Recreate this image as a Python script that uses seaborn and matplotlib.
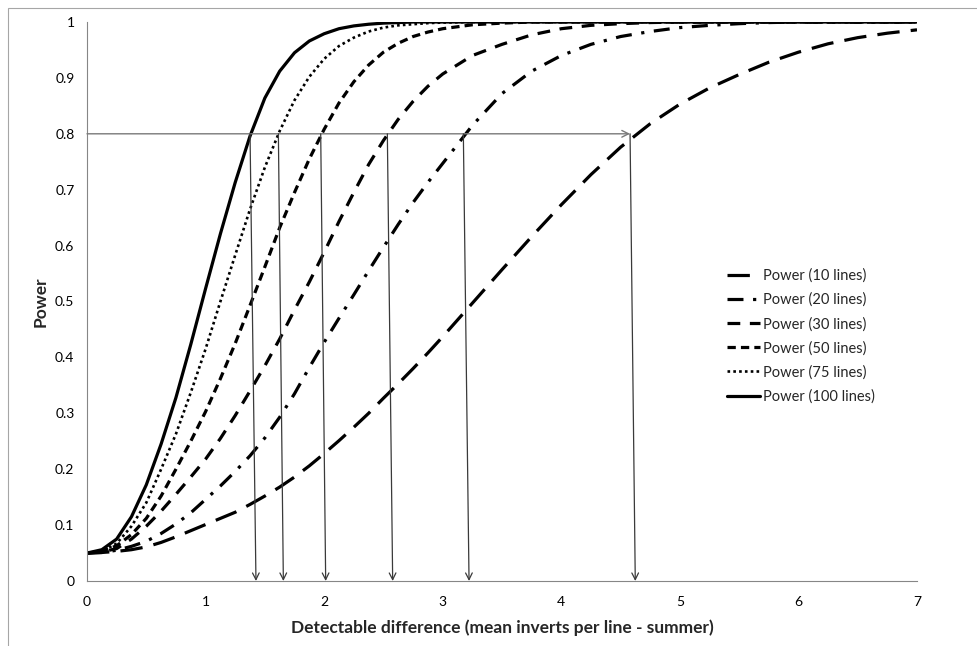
import matplotlib
matplotlib.use("Agg")
import matplotlib.pyplot as plt
from matplotlib.patches import Rectangle
import pandas as pd
import seaborn as sns

# detectable difference (x axis): every 0.125 up to 3, then every 0.25
diff = [0.0, 0.125, 0.25, 0.375, 0.5, 0.625, 0.75, 0.875, 1.0, 1.125, 1.25, 1.375,
        1.5, 1.625, 1.75, 1.875, 2.0, 2.125, 2.25, 2.375, 2.5, 2.625, 2.75, 2.875, 3.0,
        3.25, 3.5, 3.75, 4.0, 4.25, 4.5, 4.75, 5.0, 5.25, 5.5, 5.75, 6.0, 6.25, 6.5,
        6.75, 7.0]

# power
power_10 = [0.05, 0.051, 0.053, 0.056, 0.061, 0.069, 0.079, 0.09, 0.101, 0.112, 0.123,
            0.137, 0.152, 0.168, 0.186, 0.206, 0.228, 0.251, 0.275, 0.3, 0.327, 0.353,
            0.38, 0.408, 0.437,
            0.497, 0.557, 0.616, 0.673, 0.727, 0.776, 0.818, 0.853, 0.882, 0.906, 0.928,
            0.946, 0.961, 0.972, 0.98, 0.986]
power_20 = [0.05, 0.051, 0.055, 0.062, 0.071, 0.085, 0.102, 0.122, 0.146, 0.17, 0.196,
            0.224, 0.256, 0.293, 0.335, 0.382, 0.427, 0.47, 0.512, 0.555, 0.597, 0.638,
            0.677, 0.713, 0.747,
            0.815, 0.872, 0.912, 0.94, 0.96, 0.974, 0.983, 0.99, 0.994, 0.997, 0.999,
            1.0, 1.0, 1.0, 1.0, 1.0]
power_30 = [0.05, 0.052, 0.058, 0.075, 0.098, 0.125, 0.155, 0.186, 0.218, 0.255, 0.296,
            0.34, 0.385, 0.433, 0.485, 0.535, 0.588, 0.643, 0.695, 0.745, 0.788, 0.826,
            0.858, 0.885, 0.907,
            0.94, 0.96, 0.977, 0.988, 0.994, 0.997, 0.999, 1.0, 1.0, 1.0, 1.0,
            1.0, 1.0, 1.0, 1.0, 1.0]
power_50 = [0.05, 0.053, 0.063, 0.083, 0.112, 0.152, 0.2, 0.25, 0.303, 0.362, 0.425,
            0.493, 0.562, 0.632, 0.695, 0.755, 0.808, 0.855, 0.893, 0.923, 0.946, 0.962,
            0.974, 0.982, 0.988,
            0.995, 0.998, 1.0, 1.0, 1.0, 1.0, 1.0, 1.0, 1.0, 1.0, 1.0,
            1.0, 1.0, 1.0, 1.0, 1.0]
power_75 = [0.05, 0.053, 0.067, 0.098, 0.14, 0.2, 0.263, 0.337, 0.415, 0.5, 0.583,
            0.665, 0.74, 0.805, 0.86, 0.902, 0.934, 0.957, 0.972, 0.983, 0.99, 0.994,
            0.996, 0.998, 0.999,
            1.0, 1.0, 1.0, 1.0, 1.0, 1.0, 1.0, 1.0, 1.0, 1.0, 1.0,
            1.0, 1.0, 1.0, 1.0, 1.0]
power_100 = [0.05, 0.056, 0.075, 0.115, 0.172, 0.245, 0.328, 0.423, 0.523, 0.621, 0.713,
             0.796, 0.864, 0.912, 0.945, 0.966, 0.979, 0.988, 0.993, 0.996, 0.998, 0.999,
             1.0, 1.0, 1.0,
             1.0, 1.0, 1.0, 1.0, 1.0, 1.0, 1.0, 1.0, 1.0, 1.0, 1.0,
             1.0, 1.0, 1.0, 1.0, 1.0]

labels = ["Power (10 lines)", "Power (20 lines)", "Power (30 lines)",
          "Power (50 lines)", "Power (75 lines)", "Power (100 lines)"]
series = [power_10, power_20, power_30, power_50, power_75, power_100]

# where the 80% power line meets each curve, and where the arrow lands on the axis
arrow_top = [1.375, 1.614, 1.971, 2.533, 3.174, 4.58]
arrow_bottom = [1.425, 1.656, 2.013, 2.578, 3.222, 4.624]
target = 0.8

df = pd.concat([pd.DataFrame({"diff": diff, "power": p, "series": lab})
                for p, lab in zip(series, labels)])

sns.set_style("white")
plt.rcParams["font.family"] = ["Lato", "DejaVu Sans"]

fig = plt.figure(figsize=(9.78, 6.46), dpi=100)
ax = fig.add_axes([87 / 978, 1 - 581 / 646, 830 / 978, 559 / 646])

# line styles, roughly like the Excel ones
styles = {
    "Power (10 lines)": dict(linestyle=(0, (7, 3.5)), lw=2.3),
    "Power (20 lines)": dict(linestyle=(0, (5, 3, 1, 3)), lw=2.3),
    "Power (30 lines)": dict(linestyle=(0, (4, 3)), lw=2.3),
    "Power (50 lines)": dict(linestyle=(0, (2.6, 1.6)), lw=2.3),
    "Power (75 lines)": dict(linestyle=(0, (1, 1.2)), lw=1.9),
    "Power (100 lines)": dict(linestyle="-", lw=2.3),
}
for lab in labels:
    sub = df[df["series"] == lab]
    sns.lineplot(data=sub, x="diff", y="power", ax=ax, color="black",
                 label=lab, **styles[lab])

# 80% line with arrows down to the axis
ax.annotate("", xy=(arrow_top[-1], target), xytext=(0, target),
            arrowprops=dict(arrowstyle="->", color="#7a7a7a", lw=1.0,
                            mutation_scale=12, shrinkA=0, shrinkB=0))
for xt, xb in zip(arrow_top, arrow_bottom):
    ax.annotate("", xy=(xb, 0), xytext=(xt, target),
                arrowprops=dict(arrowstyle="->", color="#3a3a3a", lw=0.9,
                                mutation_scale=12, shrinkA=0, shrinkB=0))

ax.set_xlim(0, 7)
ax.set_ylim(0, 1)
ax.set_xticks(range(0, 8))
ax.set_yticks([i / 10 for i in range(11)])
ax.set_yticklabels(["0"] + [f"0.{i}" for i in range(1, 10)] + ["1"])
ax.tick_params(axis="both", direction="out", length=4, width=0.8, color="#868686",
               labelsize=10, pad=5, labelcolor="black")
ax.tick_params(axis="x", pad=7)
for side in ["top", "right"]:
    ax.spines[side].set_visible(False)
for side in ["left", "bottom"]:
    ax.spines[side].set_color("#868686")
    ax.spines[side].set_linewidth(0.8)

ax.set_xlabel("Detectable difference (mean inverts per line - summer)",
              fontsize=12.5, fontweight="bold", labelpad=8)
ax.set_ylabel("Power", fontsize=12.5, fontweight="bold", labelpad=5)

ax.legend(loc="center left", bbox_to_anchor=(0.771, 0.438), frameon=False,
          fontsize=10.5, handlelength=2.25, handletextpad=0.2, labelspacing=0.67,
          borderpad=0, borderaxespad=0)

# chart area border (left and top visible)
fig.patches.append(Rectangle((8 / 978, -0.1), 1.2, 1.1 - 8 / 646, transform=fig.transFigure,
                             fill=False, edgecolor="#a6a6a6", lw=0.8))

fig.savefig("out.png", dpi=100)
